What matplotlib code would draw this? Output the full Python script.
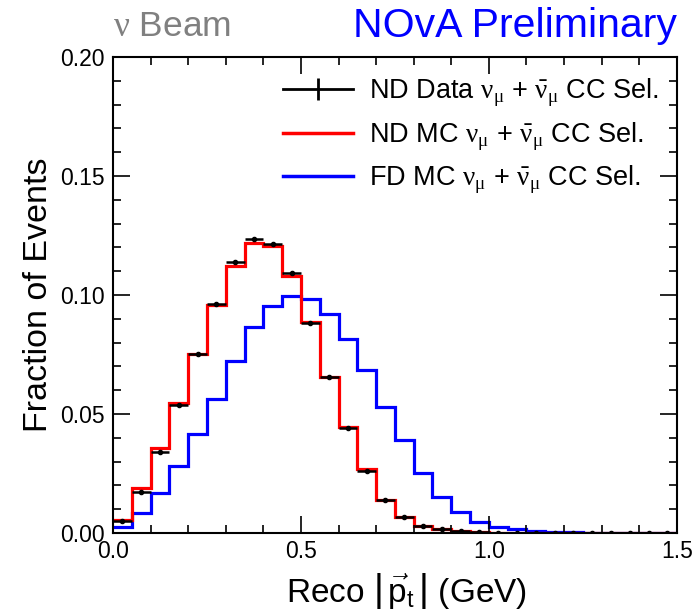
import numpy as np
import matplotlib
matplotlib.use("Agg")
import matplotlib.pyplot as plt
from matplotlib.lines import Line2D
from matplotlib.ticker import MultipleLocator, FormatStrFormatter

plt.rcParams['font.family'] = ['Liberation Sans', 'DejaVu Sans']
plt.rcParams['mathtext.fontset'] = 'custom'
plt.rcParams['mathtext.rm'] = 'Liberation Sans'
plt.rcParams['mathtext.it'] = 'Liberation Sans:italic'
plt.rcParams['mathtext.bf'] = 'Liberation Sans:bold'
plt.rcParams['mathtext.sf'] = 'Liberation Serif'  # used for the greek letters (ROOT style)

# 30 bins of 0.05 GeV from 0 to 1.5
bin_edges = np.linspace(0.0, 1.5, 31)

nd_data = [0.0050, 0.0174, 0.0342, 0.0538, 0.0752, 0.0961, 0.1137, 0.1235, 0.1214, 0.1091,
           0.0884, 0.0654, 0.0440, 0.0262, 0.0137, 0.0067, 0.0030, 0.0015, 0.0007, 0.0003,
           0.0002, 0.0001, 0.0001, 0.0, 0.0, 0.0, 0.0, 0.0, 0.0, 0.0]
nd_data_err = [0.0006, 0.0008, 0.0008, 0.0008, 0.0008, 0.0008, 0.0008, 0.0008, 0.0008, 0.0008,
               0.0008, 0.0008, 0.0007, 0.0006, 0.0005, 0.0004, 0.0003, 0.0002, 0.0002, 0.0001,
               0.0001, 0.0, 0.0, 0.0, 0.0, 0.0, 0.0, 0.0, 0.0, 0.0]
nd_mc = [0.0055, 0.0188, 0.0359, 0.0548, 0.0751, 0.0958, 0.1123, 0.1217, 0.1207, 0.1080,
         0.0885, 0.0657, 0.0444, 0.0268, 0.0139, 0.0069, 0.0031, 0.0015, 0.0008, 0.0004,
         0.0002, 0.0001, 0.0001, 0.0, 0.0, 0.0, 0.0, 0.0, 0.0, 0.0]
fd_mc = [0.0024, 0.0085, 0.0167, 0.0283, 0.0415, 0.0562, 0.0723, 0.0867, 0.0954, 0.0995,
         0.0985, 0.0920, 0.0815, 0.0685, 0.0531, 0.0391, 0.0253, 0.0153, 0.0090, 0.0048,
         0.0027, 0.0017, 0.0010, 0.0006, 0.0003, 0.0002, 0.0001, 0.0001, 0.0, 0.0]

nu_nubar = r"$\mathsf{\nu}_{\mathsf{\mu}}$ + $\bar{\mathsf{\nu}}_{\mathsf{\mu}}$"
label_data = "ND Data " + nu_nubar + " CC Sel."
label_ndmc = "ND MC " + nu_nubar + " CC Sel."
label_fdmc = "FD MC " + nu_nubar + " CC Sel."

fig = plt.figure(figsize=(6.92, 6.15), dpi=100)
ax = fig.add_axes([0.1633, 0.1333, 0.8147, 0.774])

centers = 0.5 * (bin_edges[:-1] + bin_edges[1:])
half_w = 0.5 * np.diff(bin_edges)

ax.stairs(fd_mc, bin_edges, color='#0000ff', lw=2.3, baseline=None)
ax.stairs(nd_mc, bin_edges, color='#ff0000', lw=2.3, baseline=None)
ax.errorbar(centers, nd_data, xerr=half_w, yerr=nd_data_err, fmt='o', color='black',
            ms=3, elinewidth=1.8, capsize=0)

ax.set_xlim(0, 1.5)
ax.set_ylim(0, 0.20)
ax.xaxis.set_major_locator(MultipleLocator(0.5))
ax.xaxis.set_minor_locator(MultipleLocator(0.1))
ax.yaxis.set_major_locator(MultipleLocator(0.05))
ax.yaxis.set_minor_locator(MultipleLocator(0.01))
ax.xaxis.set_major_formatter(FormatStrFormatter('%.1f'))
ax.yaxis.set_major_formatter(FormatStrFormatter('%.2f'))
ax.tick_params(which='both', direction='in', top=True, right=True, width=1.2, labelsize=16.5)
ax.tick_params(which='major', length=12)
ax.tick_params(axis='y', which='major', pad=6)
ax.tick_params(axis='x', which='major', pad=5)
ax.tick_params(which='minor', length=6)
for s in ax.spines.values():
    s.set_linewidth(1.5)

ax.set_ylabel("Fraction of Events", fontsize=24.5)
ax.yaxis.set_label_coords(-0.104, 0.5)
ax.set_xlabel(r"Reco $\left|\,\vec{\mathrm{p}}_{\mathrm{t}}\,\right|$ (GeV)", fontsize=24)
ax.xaxis.set_label_coords(0.52, -0.08)

handles = [Line2D([], [], color='black', lw=2, marker='|', ms=16.5, mew=2),
           Line2D([], [], color='#ff0000', lw=2.5),
           Line2D([], [], color='#0000ff', lw=2.5)]
ax.legend(handles, [label_data, label_ndmc, label_fdmc], loc='upper right', frameon=False,
          fontsize=19.5, handlelength=2.6, handletextpad=0.6, labelspacing=0.42,
          bbox_to_anchor=(1.012, 1.01))

fig.text(0.163, 0.957, r"$\mathsf{\nu}$ Beam", color='#808080', fontsize=25.5, va='center', ha='left')
fig.text(0.978, 0.957, "NOvA Preliminary", color='#0000ff', fontsize=29.5, va='center', ha='right')

fig.savefig("out.png", dpi=100)
